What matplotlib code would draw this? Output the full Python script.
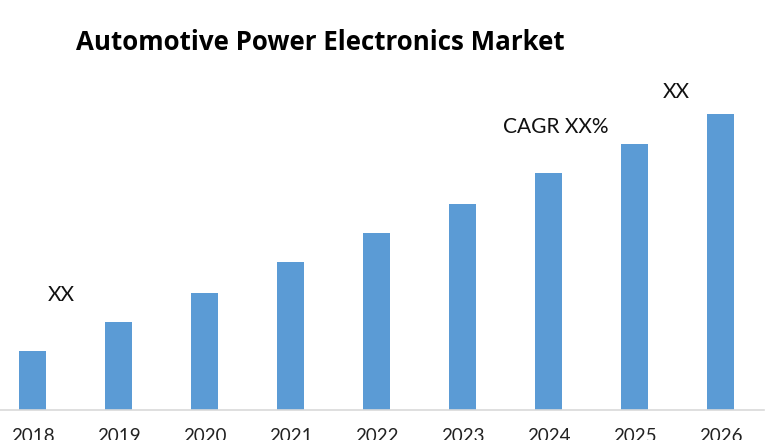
import matplotlib
matplotlib.use("Agg")
import matplotlib.pyplot as plt

# data (arbitrary units, baseline = 0)
years = ["2018", "2019", "2020", "2021", "2022", "2023", "2024", "2025", "2026"]
market = [59, 88, 117, 148, 177, 206, 237, 266, 296]

title = "Automotive Power Electronics Market"
bar_color = "#5B9BD5"

plt.rcParams["font.family"] = ["Lato", "DejaVu Sans"]

fig = plt.figure(figsize=(7.8, 4.4), dpi=100)
ax = fig.add_axes([-10.5 / 780, 30 / 440, 774 / 780, 350 / 440])

x = list(range(len(years)))
ax.bar(x, market, width=0.31, color=bar_color, zorder=2)

ax.set_xlim(-0.5, 8.5)
ax.set_ylim(0, 350)
ax.set_xticks(x)
ax.set_xticklabels(years, fontsize=13.5, color="#222222")
ax.tick_params(axis="x", length=0, pad=13)
ax.set_yticks([])

for side in ["top", "right", "left"]:
    ax.spines[side].set_visible(False)
ax.spines["bottom"].set_color("#D9D9D9")
ax.spines["bottom"].set_linewidth(1.2)

# annotations
ax.text(0.34, 115, "XX", fontsize=15, ha="center", va="center", color="#111111")
ax.text(6.08, 283, "CAGR XX%", fontsize=15, ha="center", va="center", color="#111111")
ax.text(7.49, 318, "XX", fontsize=15, ha="center", va="center", color="#111111")

fig.text(320 / 780, 1 - 43 / 440, title, fontsize=18.6, fontweight="bold",
         family=["Open Sans", "DejaVu Sans"],
         ha="center", va="center", color="black")

fig.savefig("out.png", dpi=100)
